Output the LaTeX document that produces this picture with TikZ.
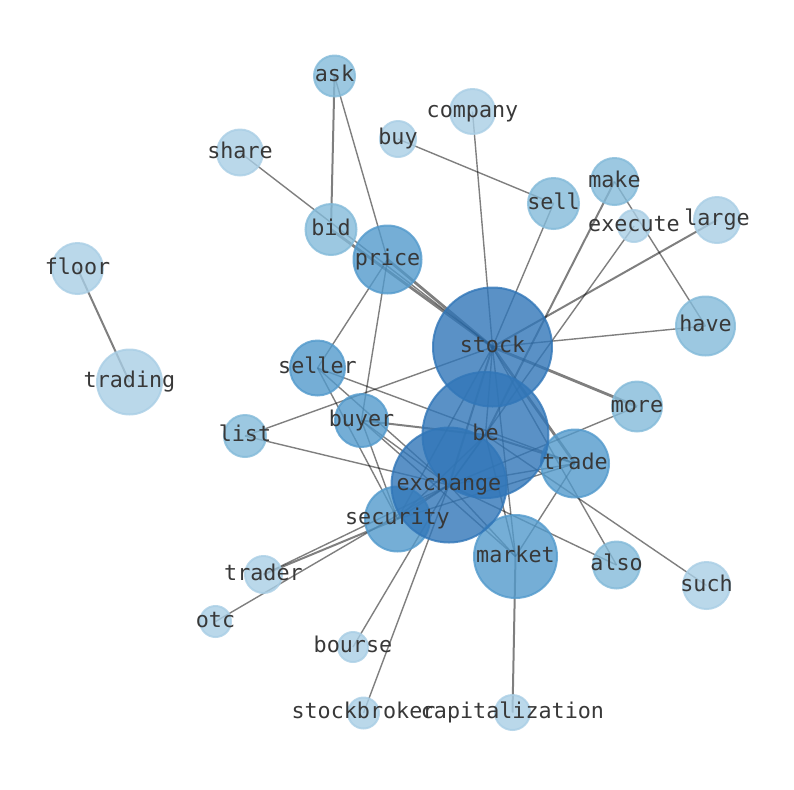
\documentclass[tikz,border=0pt]{standalone}
\usepackage{fontspec}
\newfontfamily\wordfont{DejaVu Sans Mono}
\usetikzlibrary{backgrounds}

\definecolor{tintA}{RGB}{169,206,229}
\definecolor{tintB}{RGB}{131,186,217}
\definecolor{tintC}{RGB}{83,154,204}
\definecolor{tintD}{RGB}{49,118,184}

\begin{document}
\begin{tikzpicture}[x=0.75pt, y=-0.75pt,
    word/.style={circle, inner sep=0pt, outer sep=0pt, minimum size=#1*1.5pt, line width=1.5pt, fill opacity=0.8, draw opacity=0.8},
    wa/.style={word=#1, fill=tintA, draw=tintA},
    wb/.style={word=#1, fill=tintB, draw=tintB},
    wc/.style={word=#1, fill=tintC, draw=tintC},
    wd/.style={word=#1, fill=tintD, draw=tintD},
    lbl/.style={font=\wordfont\fontsize{16.3}{18}\selectfont, text=black!78, inner sep=0pt, text height=12pt, text depth=3.4pt},
    link/.style={draw=black, opacity=0.5, line width=1.05pt},
    link2/.style={link, line width=1.5pt},
    link3/.style={link, line width=2.1pt}]
    \useasboundingbox (0,0) rectangle (794,790);

    % word circles
    \node[wb=20.5] (ask) at (334.5,76) {};
    \node[wa=22.5] (company) at (472.5,111.5) {};
    \node[wa=18] (buy) at (398,139) {};
    \node[wa=23] (share) at (240,152.5) {};
    \node[wb=23.5] (make) at (614.5,181.5) {};
    \node[wb=25.5] (sell) at (553.5,203.5) {};
    \node[wa=16] (execute) at (634,226) {};
    \node[wa=23] (large) at (717,220) {};
    \node[wb=25.5] (bid) at (331,229.5) {};
    \node[wc=34] (price) at (387.5,259.5) {};
    \node[wa=25.5] (floor) at (77.5,268.5) {};
    \node[wb=29.5] (have) at (705.5,326) {};
    \node[wa=32.5] (trading) at (129.5,382) {};
    \node[wc=27.5] (seller) at (317.5,368) {};
    \node[wb=25] (more) at (637,406.5) {};
    \node[wc=26.5] (buyer) at (361.5,420.5) {};
    \node[wb=21] (list) at (245,436) {};
    \node[wc=34] (trade) at (575,463.5) {};
    \node[wc=32.5] (security) at (397.5,519) {};
    \node[wc=41.5] (market) at (515.5,556.5) {};
    \node[wb=23.5] (also) at (616.5,565) {};
    \node[wa=23.5] (such) at (706.5,585.5) {};
    \node[wa=18.5] (trader) at (263.5,574.5) {};
    \node[wa=15.5] (otc) at (215.5,621.5) {};
    \node[wa=15] (bourse) at (353,647) {};
    \node[wa=15.5] (stockbroker) at (363.5,713) {};
    \node[wa=17.5] (capitalization) at (512.5,712.5) {};
    \node[wd=59.5] (stock) at (492.5,347) {};
    \node[wd=63] (be) at (485.5,435) {};
    \node[wd=57.5] (exchange) at (449,485) {};

    % co-occurrence links
    \begin{pgfonlayer}{background}
    \draw[link2] (floor.center) -- (trading.center);
    \draw[link2] (ask.center) -- (bid.center);
    \draw[link] (ask.center) -- (price.center);
    \draw[link] (share.center) -- (stock.center);
    \draw[link3] (bid.center) -- (stock.center);
    \draw[link3] (price.center) -- (stock.center);
    \draw[link] (buy.center) -- (sell.center);
    \draw[link] (company.center) -- (stock.center);
    \draw[link] (sell.center) -- (stock.center);
    \draw[link2] (make.center) -- (be.center);
    \draw[link] (make.center) -- (have.center);
    \draw[link] (execute.center) -- (exchange.center);
    \draw[link2] (large.center) -- (stock.center);
    \draw[link] (stock.center) -- (have.center);
    \draw[link3] (stock.center) -- (more.center);
    \draw[link3] (stock.center) -- (trade.center);
    \draw[link] (list.center) -- (stock.center);
    \draw[link] (list.center) -- (exchange.center);
    \draw[link] (seller.center) -- (price.center);
    \draw[link] (price.center) -- (buyer.center);
    \draw[link] (seller.center) -- (security.center);
    \draw[link] (seller.center) -- (exchange.center);
    \draw[link] (seller.center) -- (trade.center);
    \draw[link2] (buyer.center) -- (be.center);
    \draw[link] (buyer.center) -- (security.center);
    \draw[link] (buyer.center) -- (exchange.center);
    \draw[link] (buyer.center) -- (market.center);
    \draw[link] (stock.center) -- (be.center);
    \draw[link2] (stock.center) -- (exchange.center);
    \draw[link] (stock.center) -- (security.center);
    \draw[link] (stock.center) -- (market.center);
    \draw[link] (stock.center) -- (also.center);
    \draw[link] (be.center) -- (exchange.center);
    \draw[link] (be.center) -- (security.center);
    \draw[link] (be.center) -- (market.center);
    \draw[link2] (trade.center) -- (be.center);
    \draw[link] (be.center) -- (such.center);
    \draw[link] (trade.center) -- (exchange.center);
    \draw[link] (trade.center) -- (security.center);
    \draw[link] (trade.center) -- (market.center);
    \draw[link] (exchange.center) -- (more.center);
    \draw[link] (exchange.center) -- (also.center);
    \draw[link] (exchange.center) -- (security.center);
    \draw[link] (exchange.center) -- (market.center);
    \draw[link2] (trader.center) -- (security.center);
    \draw[link] (trader.center) -- (exchange.center);
    \draw[link] (otc.center) -- (exchange.center);
    \draw[link] (bourse.center) -- (exchange.center);
    \draw[link] (stockbroker.center) -- (exchange.center);
    \draw[link2] (market.center) -- (capitalization.center);
    \end{pgfonlayer}

    % words
    \node[lbl] (ask-t) at (ask) {ask};
    \node[lbl] (company-t) at (company) {company};
    \node[lbl] (buy-t) at (buy) {buy};
    \node[lbl] (share-t) at (share) {share};
    \node[lbl] (make-t) at (make) {make};
    \node[lbl] (sell-t) at (sell) {sell};
    \node[lbl] (execute-t) at (execute) {execute};
    \node[lbl] (large-t) at (large) {large};
    \node[lbl] (bid-t) at (bid) {bid};
    \node[lbl] (price-t) at (price) {price};
    \node[lbl] (floor-t) at (floor) {floor};
    \node[lbl] (have-t) at (have) {have};
    \node[lbl] (trading-t) at (trading) {trading};
    \node[lbl] (seller-t) at (seller) {seller};
    \node[lbl] (more-t) at (more) {more};
    \node[lbl] (buyer-t) at (buyer) {buyer};
    \node[lbl] (list-t) at (list) {list};
    \node[lbl] (trade-t) at (trade) {trade};
    \node[lbl] (security-t) at (security) {security};
    \node[lbl] (market-t) at (market) {market};
    \node[lbl] (also-t) at (also) {also};
    \node[lbl] (such-t) at (such) {such};
    \node[lbl] (trader-t) at (trader) {trader};
    \node[lbl] (otc-t) at (otc) {otc};
    \node[lbl] (bourse-t) at (bourse) {bourse};
    \node[lbl] (stockbroker-t) at (stockbroker) {stockbroker};
    \node[lbl] (capitalization-t) at (capitalization) {capitalization};
    \node[lbl] (stock-t) at (stock) {stock};
    \node[lbl] (be-t) at (be) {be};
    \node[lbl] (exchange-t) at (exchange) {exchange};
\end{tikzpicture}
\end{document}
